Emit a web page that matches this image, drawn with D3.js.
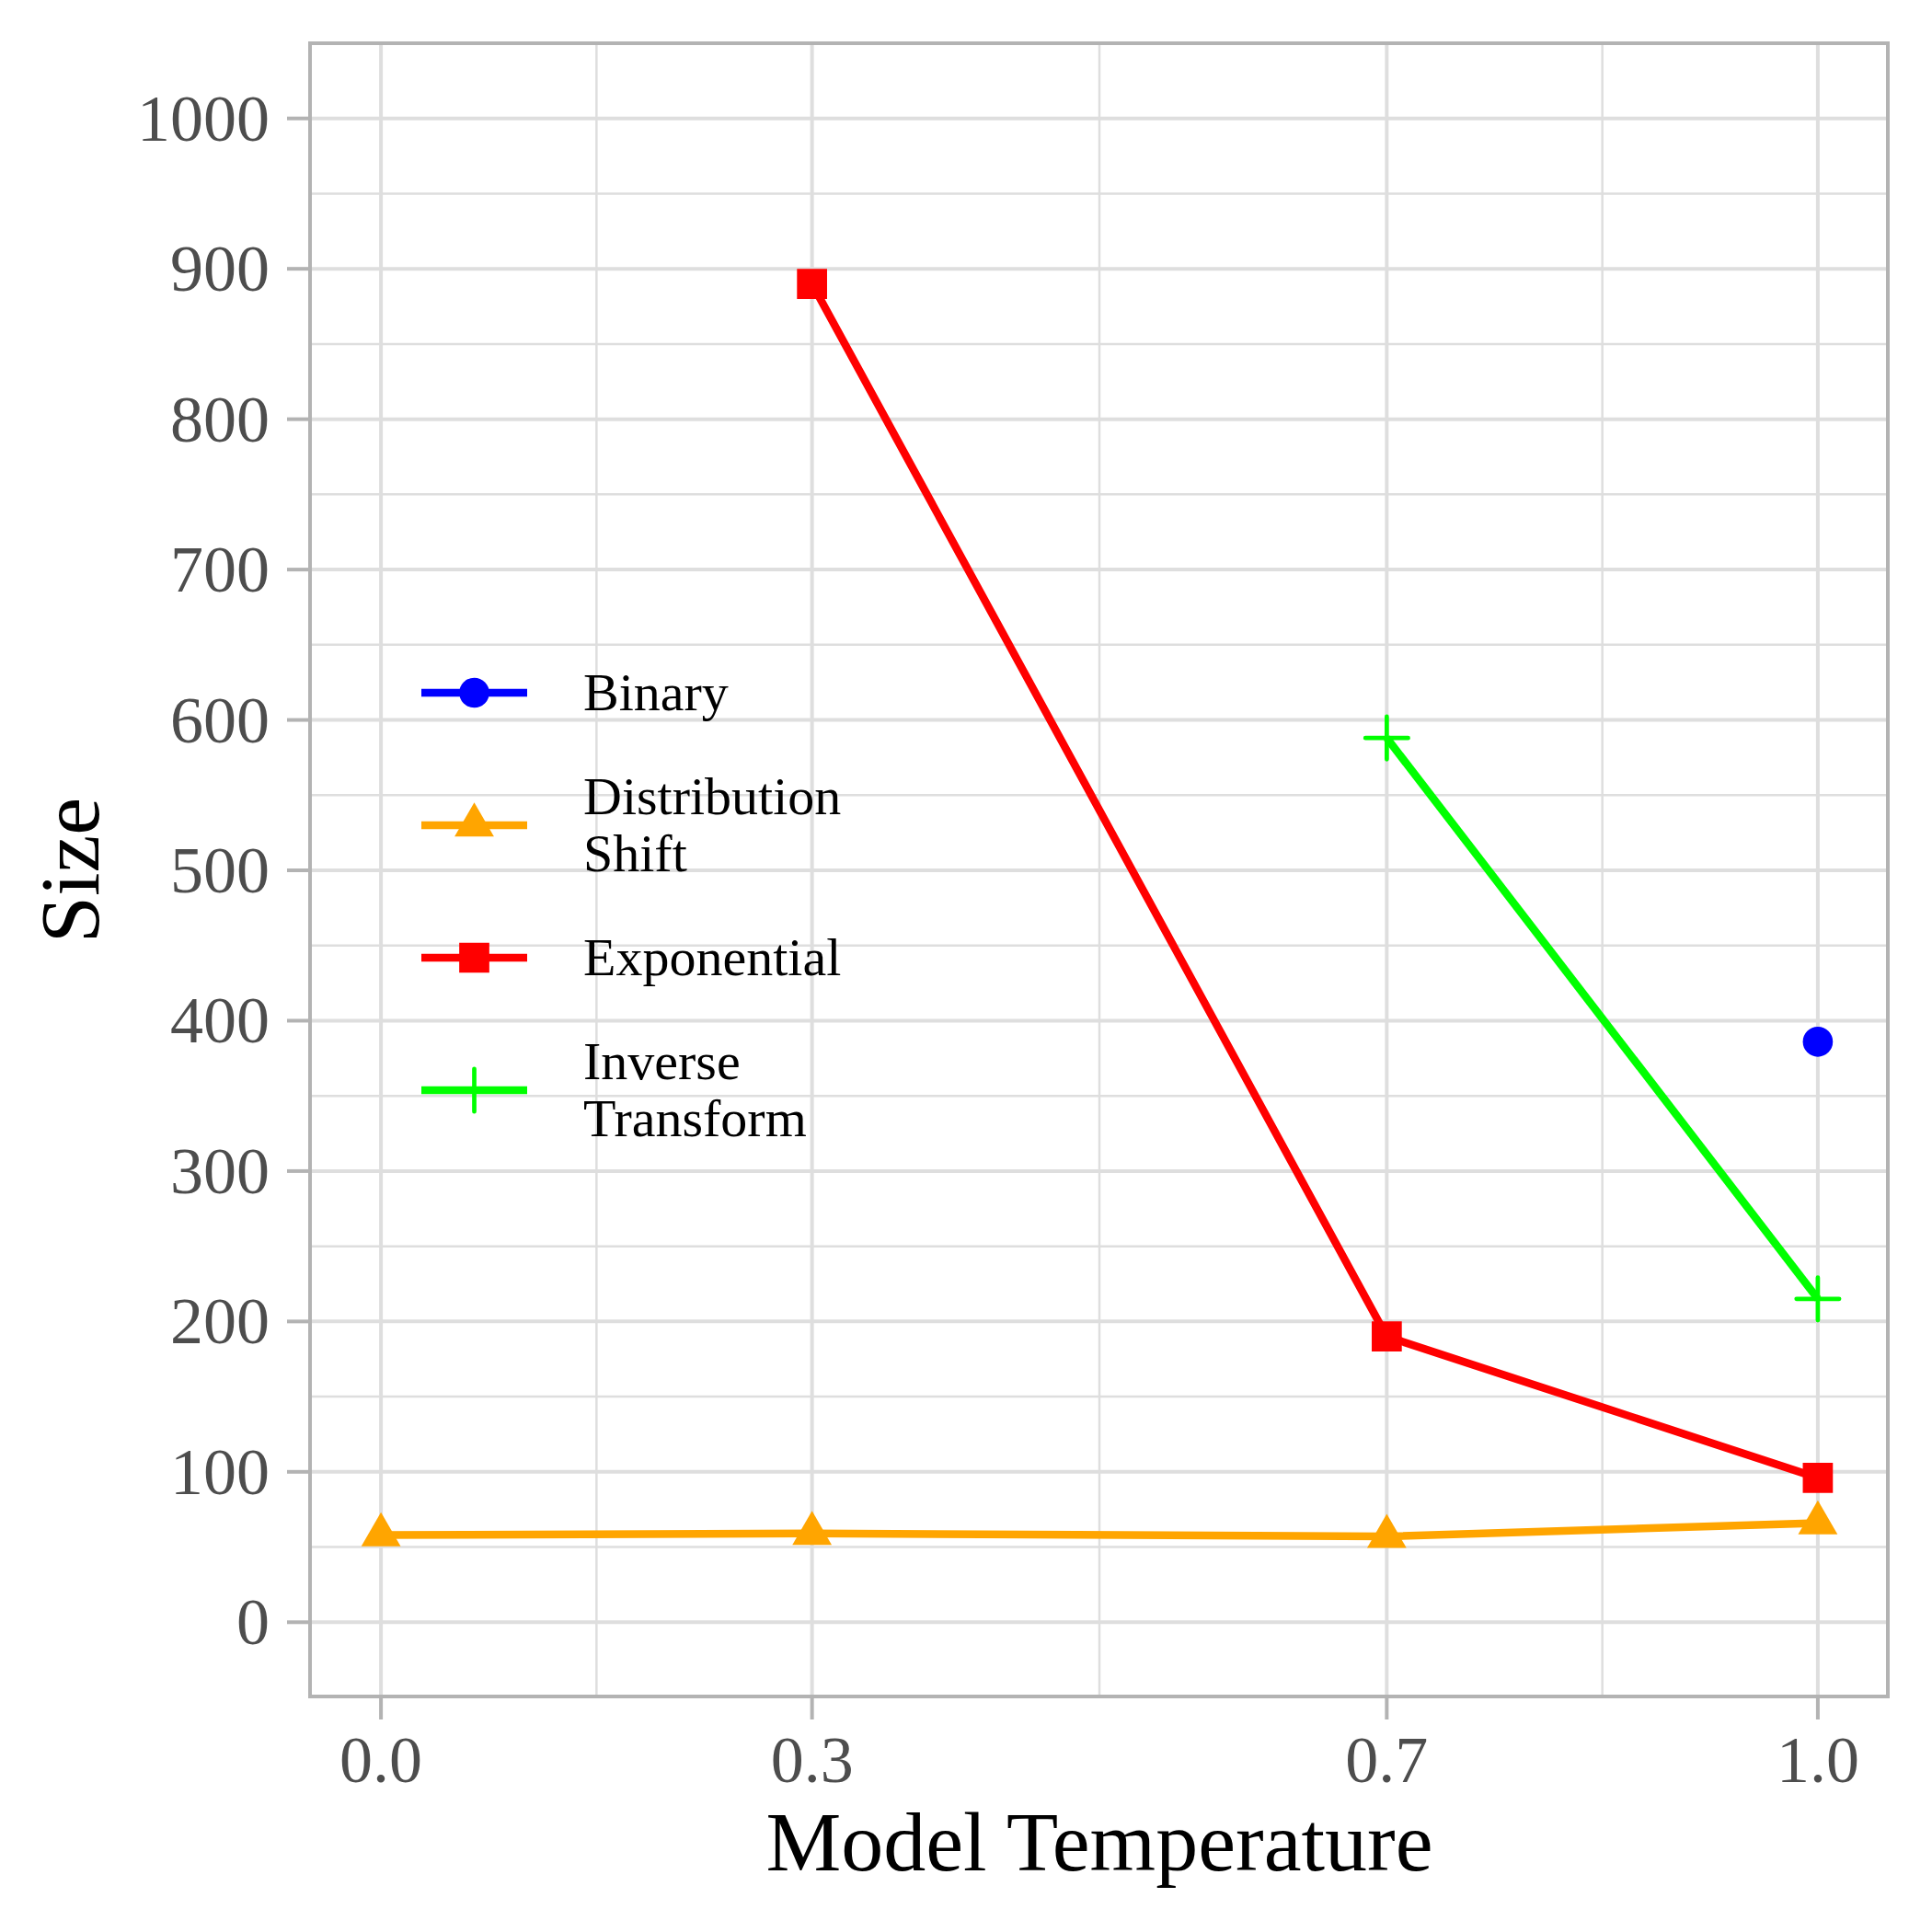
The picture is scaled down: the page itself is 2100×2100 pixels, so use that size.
<!DOCTYPE html>
<html>
<head>
<meta charset="utf-8">
<script src="https://cdn.jsdelivr.net/npm/d3@7"></script>
<style>
  html, body { margin: 0; padding: 0; background: #ffffff; }
  svg { display: block; }
</style>
</head>
<body>
<script>
// ---------------- Data ----------------
const seriesNames = ["Binary", "Distribution Shift", "Exponential", "Inverse Transform"];
const seriesLabels = [["Binary"], ["Distribution", "Shift"], ["Exponential"], ["Inverse", "Transform"]];
const seriesColors = ["#0000ff", "#ffa500", "#ff0000", "#00ff00"];
const seriesShapes = ["circle", "triangle", "square", "plus"];

const binaryX = [1.0];
const binaryY = [386];
const distShiftX = [0.0, 0.3, 0.7, 1.0];
const distShiftY = [58, 59, 57, 66];
const exponentialX = [0.3, 0.7, 1.0];
const exponentialY = [890, 190, 96];
const inverseX = [0.7, 1.0];
const inverseY = [588, 215];

const xTicks = [0.0, 0.3, 0.7, 1.0];
const xTickLabels = ["0.0", "0.3", "0.7", "1.0"];
const xMinor = [0.15, 0.5, 0.85];
const yTicks = [0, 100, 200, 300, 400, 500, 600, 700, 800, 900, 1000];
const yMinor = [50, 150, 250, 350, 450, 550, 650, 750, 850, 950];

const xTitle = "Model Temperature";
const yTitle = "Size";

// ---------------- Layout ----------------
const W = 2100, H = 2100;
const panel = { left: 336, right: 2054, top: 47, bottom: 1845 };
const FONT = "'Liberation Serif', 'Times New Roman', Times, serif";

const series = [
  { x: binaryX, y: binaryY },
  { x: distShiftX, y: distShiftY },
  { x: exponentialX, y: exponentialY },
  { x: inverseX, y: inverseY }
].map((s, i) => ({
  name: seriesNames[i],
  color: seriesColors[i],
  shape: seriesShapes[i],
  points: s.x.map((xv, j) => ({ x: xv, y: s.y[j] }))
}));

const xScale = d3.scaleLinear().domain([-0.05, 1.05]).range([panel.left, panel.right]);
const yScale = d3.scaleLinear().domain([-50, 1050]).range([panel.bottom, panel.top]);

const svg = d3.select("body").append("svg")
  .attr("width", W).attr("height", H)
  .attr("viewBox", `0 0 ${W} ${H}`);

svg.append("rect").attr("width", W).attr("height", H).attr("fill", "#ffffff");

const gridColor = "#dedede";
const borderColor = "#b3b3b3";

// Minor grid
const grid = svg.append("g");
grid.selectAll("line.ymin").data(yMinor).enter().append("line")
  .attr("x1", panel.left).attr("x2", panel.right)
  .attr("y1", d => yScale(d)).attr("y2", d => yScale(d))
  .attr("stroke", gridColor).attr("stroke-width", 2.5);
grid.selectAll("line.xmin").data(xMinor).enter().append("line")
  .attr("y1", panel.top).attr("y2", panel.bottom)
  .attr("x1", d => xScale(d)).attr("x2", d => xScale(d))
  .attr("stroke", gridColor).attr("stroke-width", 2.5);
// Major grid
grid.selectAll("line.ymaj").data(yTicks).enter().append("line")
  .attr("x1", panel.left).attr("x2", panel.right)
  .attr("y1", d => yScale(d)).attr("y2", d => yScale(d))
  .attr("stroke", gridColor).attr("stroke-width", 4);
grid.selectAll("line.xmaj").data(xTicks).enter().append("line")
  .attr("y1", panel.top).attr("y2", panel.bottom)
  .attr("x1", d => xScale(d)).attr("x2", d => xScale(d))
  .attr("stroke", gridColor).attr("stroke-width", 4);

// Marker generator
function markerPath(shape) {
  if (shape === "circle") return d3.symbol(d3.symbolCircle, Math.PI * 16.3 * 16.3)();
  if (shape === "square") return d3.symbol(d3.symbolSquare, 32.7 * 32.7)();
  if (shape === "triangle") return d3.symbol(d3.symbolTriangle, 12.35 * 12.35 * 3 * Math.sqrt(3))();
  if (shape === "plus") { const a = 23.2; return `M${-a},0L${a},0M0,${-a}L0,${a}`; }
  return "";
}
function drawMarker(g, shape, color, x, y) {
  const p = g.append("path").attr("d", markerPath(shape))
    .attr("transform", `translate(${x},${y})`);
  if (shape === "plus") {
    p.attr("fill", "none").attr("stroke", color).attr("stroke-width", 4.7).attr("stroke-linecap", "round");
  } else {
    p.attr("fill", color).attr("stroke", "none");
  }
}

// Lines
const lineGen = d3.line().x(d => xScale(d.x)).y(d => yScale(d.y));
const linesG = svg.append("g");
series.forEach(s => {
  if (s.points.length > 1) {
    linesG.append("path").datum(s.points)
      .attr("d", lineGen)
      .attr("fill", "none")
      .attr("stroke", s.color)
      .attr("stroke-width", 8.5)
      .attr("stroke-linejoin", "round")
      .attr("stroke-linecap", "butt");
  }
});

// Points
const ptsG = svg.append("g");
series.forEach(s => {
  s.points.forEach(p => drawMarker(ptsG, s.shape, s.color, xScale(p.x), yScale(p.y)));
});

// Panel border
svg.append("rect")
  .attr("x", panel.left + 1).attr("y", panel.top)
  .attr("width", panel.right - panel.left - 3).attr("height", panel.bottom - panel.top - 1)
  .attr("fill", "none").attr("stroke", borderColor).attr("stroke-width", 4);

// Axes (ticks + labels)
const tickLen = 24;
const yAxisG = svg.append("g");
yAxisG.selectAll("line").data(yTicks).enter().append("line")
  .attr("x1", panel.left - tickLen).attr("x2", panel.left)
  .attr("y1", d => yScale(d)).attr("y2", d => yScale(d))
  .attr("stroke", borderColor).attr("stroke-width", 4);
yAxisG.selectAll("text").data(yTicks).enter().append("text")
  .attr("x", 293).attr("y", d => yScale(d) + 24)
  .attr("text-anchor", "end")
  .attr("font-family", FONT).attr("font-size", 72).attr("fill", "#4d4d4d")
  .text(d => String(d));

const xAxisG = svg.append("g");
xAxisG.selectAll("line").data(xTicks).enter().append("line")
  .attr("y1", panel.bottom).attr("y2", panel.bottom + tickLen)
  .attr("x1", d => xScale(d)).attr("x2", d => xScale(d))
  .attr("stroke", borderColor).attr("stroke-width", 4);
xAxisG.selectAll("text").data(xTicks).enter().append("text")
  .attr("x", d => xScale(d)).attr("y", 1937)
  .attr("text-anchor", "middle")
  .attr("font-family", FONT).attr("font-size", 72).attr("fill", "#4d4d4d")
  .text((d, i) => xTickLabels[i]);

// Axis titles
svg.append("text")
  .attr("x", (panel.left + panel.right) / 2).attr("y", 2033)
  .attr("text-anchor", "middle")
  .attr("font-family", FONT).attr("font-size", 92).attr("fill", "#000000")
  .text(xTitle);
svg.append("text")
  .attr("transform", `translate(107,${(panel.top + panel.bottom) / 2}) rotate(-90)`)
  .attr("text-anchor", "middle")
  .attr("font-family", FONT).attr("font-size", 92).attr("fill", "#000000")
  .text(yTitle);

// Legend
const legend = svg.append("g");
const keyX0 = 458, keyX1 = 573, keyCx = 515.5, textX = 634;
const keyY0 = 753, keyStep = 144;
const legFont = 58, legLine = 62, capHalf = 19.2;
series.forEach((s, i) => {
  const cy = keyY0 + i * keyStep;
  legend.append("line")
    .attr("x1", keyX0).attr("x2", keyX1).attr("y1", cy).attr("y2", cy)
    .attr("stroke", s.color).attr("stroke-width", 8.5);
  drawMarker(legend, s.shape, s.color, keyCx, cy);
  const lines = seriesLabels[i];
  const firstBase = cy + capHalf - (lines.length - 1) * legLine / 2;
  const t = legend.append("text")
    .attr("font-family", FONT).attr("font-size", legFont).attr("fill", "#000000");
  lines.forEach((ln, k) => {
    t.append("tspan").attr("x", textX).attr("y", firstBase + k * legLine).text(ln);
  });
});
</script>
</body>
</html>
